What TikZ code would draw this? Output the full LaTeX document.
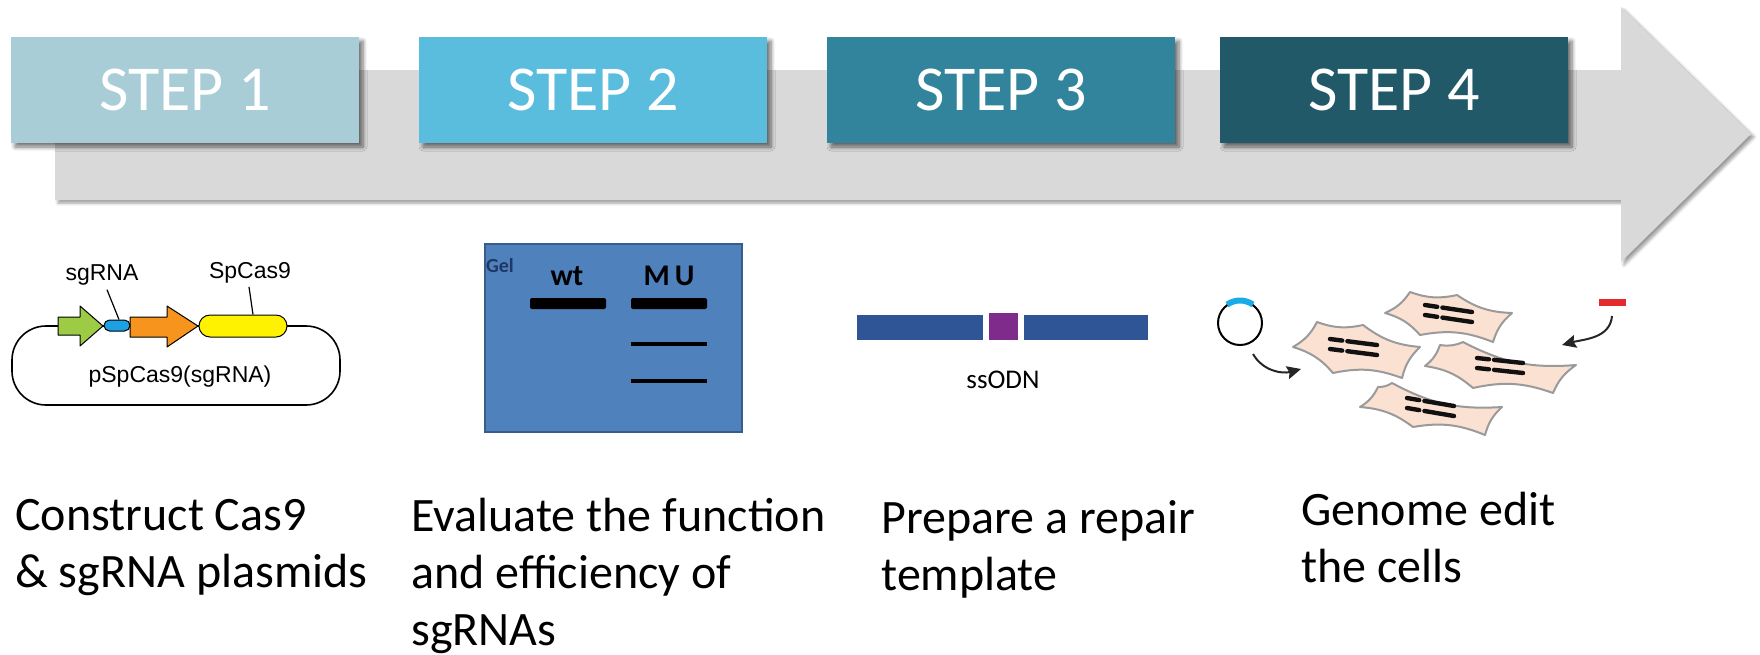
\documentclass[tikz,border=0pt]{standalone}
\usepackage{fontspec}
\setmainfont{Carlito}
\newfontfamily\helv{Liberation Sans}
\usetikzlibrary{shadows.blur,calc,arrows.meta}

\definecolor{stepA}{HTML}{A8CDD7}
\definecolor{stepB}{HTML}{5BBDDE}
\definecolor{stepC}{HTML}{31849B}
\definecolor{stepD}{HTML}{215968}
\definecolor{band}{HTML}{D9D9D9}
\definecolor{gelblue}{HTML}{4F81BD}
\definecolor{geledge}{HTML}{385D8A}
\definecolor{gelnavy}{HTML}{1F3864}
\definecolor{odnblue}{HTML}{2F5597}
\definecolor{odnpurple}{HTML}{7E2B8C}
\definecolor{genegreen}{HTML}{9DCB45}
\definecolor{geneblue}{HTML}{1DA1E2}
\definecolor{geneorange}{HTML}{F7941D}
\definecolor{geneyellow}{HTML}{FFF200}
\definecolor{cellfill}{HTML}{FBE1D2}
\definecolor{celledge}{HTML}{9A9A9A}
\definecolor{donorred}{HTML}{E52A2F}
\definecolor{arcblue}{HTML}{1BAAE8}
\definecolor{chromo}{HTML}{111111}

\tikzset{
  stepbox/.style={fill=#1, minimum width=174pt, minimum height=53pt, inner sep=0pt,
    text=white, font=\fontsize{32}{38}\selectfont,
    blur shadow={shadow xshift=2pt, shadow yshift=-2pt, shadow blur steps=6,
      shadow blur radius=2pt, shadow opacity=55}},
  caption/.style={anchor=base west, align=left, inner sep=0pt,
    font=\fontsize{24}{28.5}\selectfont},
  genelabel/.style={inner sep=0pt, font=\helv\fontsize{11.5}{13}\selectfont},
  gene/.style={draw=black, line width=0.5pt, line join=round},
  cellshape/.style={fill=cellfill, draw=celledge, line width=1pt, line join=round},
  chromoline/.style={draw=chromo, line width=2.2pt, line cap=round},
  curvearrow/.style={draw=black!85, line width=1pt, -{Stealth[length=7pt,width=6.5pt,inset=1pt]}},
}

% a spindle-shaped cell with concave sides through six corner points
\newcommand\cellpath[6]{\draw[cellshape] #1 to[bend right=16] #2 to[bend right=16] #3
  to[bend right=16] #4 to[bend right=16] #5 to[bend right=16] #6 to[bend right=16] #1 -- cycle;}
% one chromosome: a short arm and a long arm
\newcommand\chromarm[2]{%
  \draw[chromoline] #1 -- ($#1!0.26!#2$);
  \draw[chromoline] ($#1!0.37!#2$) -- #2;}
% a pair of chromosomes, the second 10px below the first
\newcommand\chromopair[4]{%
  \chromarm{(#1,#2)}{(#3,#4)}
  \chromarm{(#1,#2-10)}{(#3,#4-10)}}

\begin{document}
\begin{tikzpicture}[x=0.5pt,y=0.5pt]
\useasboundingbox (0,0) rectangle (1760,-654);

% timeline arrow
\path[fill=band, blur shadow={shadow xshift=1.5pt, shadow yshift=-1.5pt,
      shadow blur steps=5, shadow blur radius=1.5pt, shadow opacity=40}]
  (55,-70) -- (1621,-70) -- (1621,-7) -- (1751,-134) -- (1621,-262)
  -- (1621,-200) -- (55,-200) -- cycle;

% step boxes
\node[stepbox=stepA] (s1) at (185,-90) {STEP 1};
\node[stepbox=stepB] (s2) at (593,-90) {STEP 2};
\node[stepbox=stepC] (s3) at (1001,-90) {STEP 3};
\node[stepbox=stepD] (s4) at (1394,-90) {STEP 4};

% ---- plasmid ----
\draw[line width=0.8pt, rounded corners=17pt] (12,-326) rectangle (340,-405);
\path[gene, fill=genegreen] (58,-317) -- (80,-317) -- (80,-306) -- (103,-326)
  -- (80,-346) -- (80,-335) -- (58,-335) -- cycle;
\path[gene, fill=geneorange] (130,-317) -- (167,-317) -- (167,-306) -- (198,-326)
  -- (167,-347) -- (167,-337) -- (130,-337) -- cycle;
\node[gene, fill=geneblue, rounded corners=2.75pt, minimum width=13pt,
  minimum height=5.5pt, inner sep=0pt] (sgpill) at (117,-325.5) {};
\node[gene, fill=geneyellow, rounded corners=5.5pt, minimum width=44pt,
  minimum height=11pt, inner sep=0pt] (caspill) at (243,-326) {};
\node[genelabel] (sglbl) at (102,-275) {sgRNA};
\node[genelabel] (caslbl) at (250,-273) {SpCas9};
\node[genelabel] (plname) at (180,-377) {pSpCas9(sgRNA)};
\draw[line width=0.6pt] ([shift={(5,-4)}]sglbl.south) -- ([xshift=1]sgpill.north);
\draw[line width=0.6pt] ([shift={(-1,-3)}]caslbl.south) -- ([xshift=5]caspill.north);

% ---- gel ----
\node[draw=geledge, fill=gelblue, line width=1pt, minimum width=128.5pt,
  minimum height=94pt, inner sep=0pt] (gel) at (613.5,-338) {};
\node[text=gelnavy, font=\bfseries\fontsize{10}{12}\selectfont, inner sep=0pt]
  (gellbl) at (500,-266) {Gel};
\node[font=\bfseries\fontsize{15}{18}\selectfont, inner sep=0pt] (wt) at (567,-276) {wt};
\node[font=\bfseries\fontsize{15}{18}\selectfont, inner sep=0pt] (mu) at (669,-276) {M\,U};
\fill[rounded corners=1pt] (530,-298) rectangle (606,-309);
\fill[rounded corners=1pt] (631,-298) rectangle (707,-309);
\draw[line width=1.6pt] (631,-344) -- (707,-344);
\draw[line width=1.6pt] (631,-381) -- (707,-381);

% ---- repair template ----
\fill[odnblue] (857,-315) rectangle (983,-340);
\fill[odnpurple] (989,-313) rectangle (1018,-340);
\fill[odnblue] (1024,-315) rectangle (1148,-340);
\node[font=\fontsize{13.5}{16}\selectfont] (odn) at (1003,-380) {ssODN};

% ---- cells ----
\node[draw, circle, minimum size=22pt, line width=1pt, inner sep=0pt] (plas) at (1240,-323) {};
\draw[arcblue, line width=3pt] ($(plas.center)+(55:22.5)$) arc[start angle=55, end angle=125, radius=22.5];
\fill[donorred] (1599,-299) rectangle (1626,-306);

\cellpath{(1385,-313)}{(1410,-292)}{(1457,-295)}{(1512,-313)}{(1493,-342)}{(1420,-335)}
\chromopair{1425}{-305}{1472}{-312}
\cellpath{(1293,-347)}{(1317,-322)}{(1363,-325)}{(1420,-347)}{(1402,-378)}{(1333,-373)}
\chromopair{1330}{-339}{1377}{-345}
\cellpath{(1425,-366)}{(1440,-345)}{(1463,-342)}{(1576,-365)}{(1553,-393)}{(1473,-388)}
\chromopair{1477}{-358}{1523}{-363}
\cellpath{(1360,-407)}{(1378,-387)}{(1392,-383)}{(1502,-407)}{(1485,-435)}{(1413,-427)}
\chromopair{1407}{-398}{1454}{-406}

\coordinate (la) at (1253,-354);
\coordinate (lb) at (1301,-369);
\draw[curvearrow] (la) to[out=-60, in=195] (lb);
\coordinate (ra) at (1612,-316);
\coordinate (rb) at (1562,-345);
\draw[curvearrow] (ra) to[out=-95, in=15] (rb);

% ---- captions (anchored on the baseline of the last line) ----
\node[caption] (c1) at (15,-587) {Construct Cas9\\\& sgRNA plasmids};
\node[caption] (c2) at (411,-645) {Evaluate the function\\and efficiency of\\sgRNAs};
\node[caption] (c3) at (881,-590) {Prepare a repair\\template};
\node[caption] (c4) at (1301,-582) {Genome edit\\the cells};
\end{tikzpicture}
\end{document}
